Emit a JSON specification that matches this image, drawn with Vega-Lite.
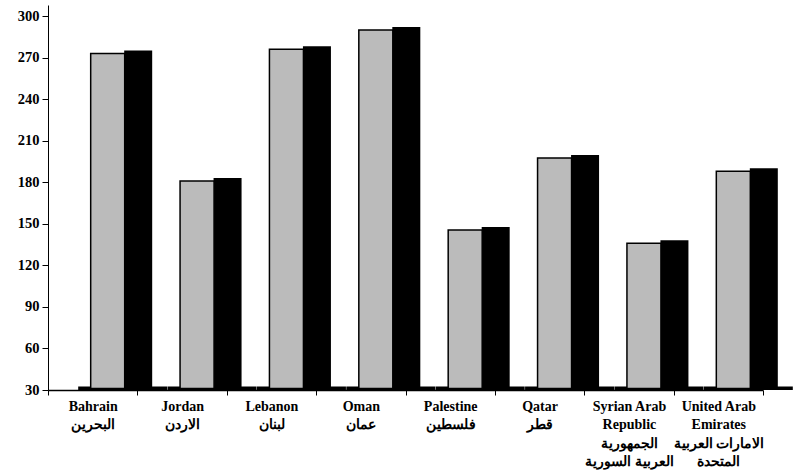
{
  "$schema": "https://vega.github.io/schema/vega-lite/v6.json",
  "width": 715,
  "height": 385,
  "autosize": {"type": "none"},
  "padding": {"left": 48, "top": 5, "right": 48, "bottom": 82},
  "background": "white",
  "config": {"view": {"stroke": null}, "font": "Liberation Serif"},
  "data": {
    "values": [
      {"name": "Bahrain|البحرين", "value": 273},
      {"name": "Jordan|الاردن", "value": 181},
      {"name": "Lebanon|لبنان", "value": 276},
      {"name": "Oman|عمان", "value": 290},
      {"name": "Palestine|فلسطين", "value": 145.5},
      {"name": "Qatar|قطر", "value": 197.5},
      {"name": "Syrian Arab|Republic|الجمهورية|العربية السورية", "value": 136},
      {"name": "United Arab|Emirates|الامارات العربية|المتحدة", "value": 188}
    ]
  },
  "encoding": {
    "x": {
      "field": "name",
      "type": "nominal",
      "sort": null,
      "scale": {"paddingInner": 0, "paddingOuter": 0},
      "axis": {
        "title": null,
        "labelAngle": 0,
        "labelExpr": "split(datum.label, '|')",
        "labelLineHeight": 18.5,
        "labelFont": "Liberation Serif",
        "labelFontWeight": "bold",
        "labelFontSize": 14,
        "labelColor": "black",
        "labelPadding": 4,
        "labelBaseline": "top",
        "labelOverlap": false,
        "labelLimit": 300,
        "tickBand": "extent",
        "tickSize": 5,
        "tickColor": "black",
        "domainColor": "black",
        "domainWidth": 1.5
      }
    }
  },
  "layer": [
    {
      "mark": {"type": "bar", "color": "black", "xOffset": 30, "width": 89},
      "encoding": {
        "y": {"datum": 32.5},
        "y2": {"datum": 30}
      }
    },
    {
      "mark": {"type": "bar", "color": "black", "xOffset": 45.5, "width": 28, "yOffset": -3},
      "encoding": {
        "y": {
          "field": "value",
          "type": "quantitative",
          "scale": {"domain": [30, 308], "nice": false, "zero": false},
          "axis": {
            "title": null,
            "values": [30, 60, 90, 120, 150, 180, 210, 240, 270, 300],
            "grid": false,
            "labelFont": "Liberation Serif",
            "labelFontWeight": "bold",
            "labelFontSize": 14.5,
            "labelColor": "black",
            "labelPadding": 3,
            "tickSize": 6,
            "tickColor": "black",
            "domainColor": "black"
          }
        },
        "y2": {"datum": 31}
      }
    },
    {
      "mark": {"type": "bar", "fill": "#bbbbbb", "stroke": "black", "strokeWidth": 1.5, "xOffset": 15, "width": 34},
      "encoding": {
        "y": {"field": "value", "type": "quantitative"},
        "y2": {"datum": 31}
      }
    }
  ]
}
